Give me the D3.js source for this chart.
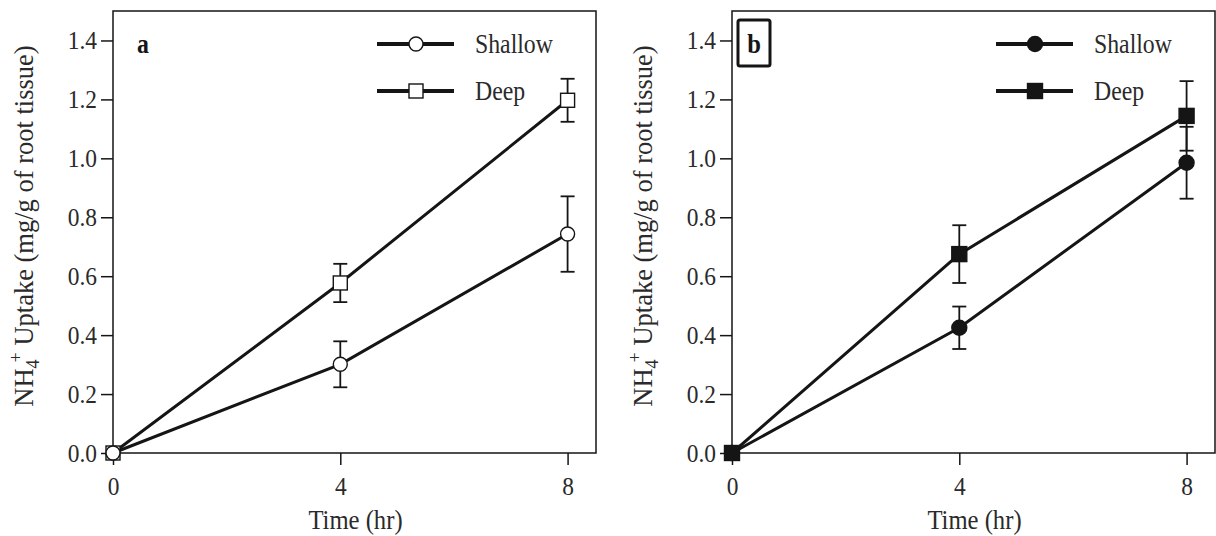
<!DOCTYPE html>
<html>
<head>
<meta charset="utf-8">
<script src="https://cdn.jsdelivr.net/npm/d3@7"></script>
<style>
  body { margin: 0; background: #fff; }
  svg { display: block; font-family: "Liberation Serif", "Times New Roman", serif; }
</style>
</head>
<body>
<svg id="chart"></svg>
<script>
let w = 1216;
let h = 536;

// data
let hours = [0, 4, 8];
let xTicks = [0, 4, 8];
let yTicks = [0, 0.2, 0.4, 0.6, 0.8, 1.0, 1.2, 1.4];
let seriesNames = ["Shallow", "Deep"];

let shallowA = [0, 0.301, 0.743];
let shallowAErr = [0, 0.078, 0.128];
let deepA = [0, 0.577, 1.197];
let deepAErr = [0, 0.065, 0.073];

let shallowB = [0, 0.425, 0.985];
let shallowBErr = [0, 0.072, 0.122];
let deepB = [0, 0.675, 1.144];
let deepBErr = [0, 0.098, 0.118];

let ink = "#151515";
let textInk = "#2a2a2a";
let squash = 0.88; // the original type is a bit narrow

let svg = d3.select("#chart").attr("width", w).attr("height", h);

let panels = [
  { left: 113, label: "a", filled: false, order: ["Deep", "Shallow"],
    series: { Shallow: [shallowA, shallowAErr], Deep: [deepA, deepAErr] } },
  { left: 732, label: "b", filled: true, order: ["Shallow", "Deep"],
    series: { Shallow: [shallowB, shallowBErr], Deep: [deepB, deepBErr] } }
];

let plotTop = 11, plotBottom = 453, pw = 483;

let narrowText = (sel, x, y, txt, size) => {
  return sel.append("text")
    .attr("transform", `translate(${x},${y}) scale(${squash},1)`)
    .attr("fill", textInk).style("font-size", size + "px")
    .text(txt);
};

let drawMarker = (sel, name, filled, cx, cy) => {
  if (name === "Shallow") {
    sel.append("circle")
      .attr("cx", cx).attr("cy", cy).attr("r", filled ? 7.5 : 7)
      .attr("fill", filled ? ink : "#fff")
      .attr("stroke", ink).attr("stroke-width", 1.4);
  } else {
    let s = filled ? 15 : 14;
    sel.append("rect")
      .attr("x", cx - s / 2).attr("y", cy - s / 2)
      .attr("width", s).attr("height", s)
      .attr("fill", filled ? ink : "#fff")
      .attr("stroke", ink).attr("stroke-width", 1.4);
  }
};

panels.forEach(p => {
  let x = d3.scaleLinear().domain([0, 8.5]).range([p.left, p.left + pw]);
  let y = d3.scaleLinear().domain([0, 1.5]).range([plotBottom, plotTop]);
  let g = svg.append("g");

  // frame
  g.append("rect")
    .attr("x", p.left).attr("y", plotTop)
    .attr("width", pw).attr("height", plotBottom - plotTop)
    .attr("fill", "none").attr("stroke", ink).attr("stroke-width", 1.5);

  // axes
  let yAxis = g.append("g")
    .attr("transform", `translate(${p.left},0)`)
    .call(d3.axisLeft(y).tickValues(yTicks).tickFormat(d3.format(".1f")).tickSize(12).tickPadding(4));
  let xAxis = g.append("g")
    .attr("transform", `translate(0,${plotBottom})`)
    .call(d3.axisBottom(x).tickValues(xTicks).tickSize(12).tickPadding(12));
  [xAxis, yAxis].forEach(a => {
    a.select(".domain").remove();
    a.selectAll("line").attr("stroke", ink).attr("stroke-width", 1.5);
    a.selectAll("text").attr("fill", textInk)
      .style("font-family", '"Liberation Serif", serif').style("font-size", "26px")
      .attr("transform", "scale(0.9,1)");
  });
  yAxis.selectAll("text").attr("x", -16 / 0.9);

  // axis titles (x title sits under the middle of the frame)
  narrowText(g, p.left + pw / 2 + 1, 529, "Time (hr)", 28).attr("text-anchor", "middle");

  let yt = g.append("text")
    .attr("transform", `translate(${p.left - 80},226) rotate(-90)`)
    .attr("text-anchor", "middle")
    .attr("fill", textInk).style("font-size", "26.5px");
  yt.append("tspan").text("NH");
  yt.append("tspan").attr("dy", 6).style("font-size", "18px").text("4");
  yt.append("tspan").attr("dx", -3).attr("dy", -17).style("font-size", "18px").text("+");
  yt.append("tspan").attr("dy", 11).text(" Uptake (mg/g of root tissue)");

  // panel letter
  if (p.label === "a") {
    narrowText(g, p.left + 24, 53, "a", 27)
      .attr("fill", ink).style("font-weight", "bold");
  } else {
    g.append("rect").attr("x", p.left + 6).attr("y", 20)
      .attr("width", 32).attr("height", 46).attr("rx", 2)
      .attr("fill", "none").attr("stroke", ink).attr("stroke-width", 3);
    narrowText(g, p.left + 22, 53, "b", 28)
      .attr("text-anchor", "middle")
      .attr("fill", ink).style("font-weight", "bold");
  }

  // lines
  let line = d3.line().x(d => x(d[0])).y(d => y(d[1]));
  p.order.forEach(name => {
    let vals = p.series[name][0];
    g.append("path")
      .datum(hours.map((hh, i) => [hh, vals[i]]))
      .attr("d", line)
      .attr("fill", "none").attr("stroke", ink).attr("stroke-width", 3);
  });

  // error bars, then markers on top
  p.order.forEach(name => {
    let vals = p.series[name][0];
    let errs = p.series[name][1];
    hours.forEach((hh, i) => {
      if (errs[i] > 0) {
        let cx = x(hh);
        let y1 = y(vals[i] + errs[i]);
        let y2 = y(vals[i] - errs[i]);
        g.append("line").attr("x1", cx).attr("x2", cx).attr("y1", y1).attr("y2", y2)
          .attr("stroke", ink).attr("stroke-width", 1.8);
        [y1, y2].forEach(yy => {
          g.append("line").attr("x1", cx - 7).attr("x2", cx + 7).attr("y1", yy).attr("y2", yy)
            .attr("stroke", ink).attr("stroke-width", 1.8);
        });
      }
    });
  });
  p.order.forEach(name => {
    let vals = p.series[name][0];
    hours.forEach((hh, i) => drawMarker(g, name, p.filled, x(hh), y(vals[i])));
  });

  // legend
  seriesNames.forEach((name, i) => {
    let ly = 44 + i * 47;
    g.append("line")
      .attr("x1", p.left + 264).attr("x2", p.left + 341)
      .attr("y1", ly).attr("y2", ly)
      .attr("stroke", ink).attr("stroke-width", 4);
    drawMarker(g, name, p.filled, p.left + 303, ly);
    narrowText(g, p.left + 362, ly + 9, name, 27);
  });
});
</script>
</body>
</html>
